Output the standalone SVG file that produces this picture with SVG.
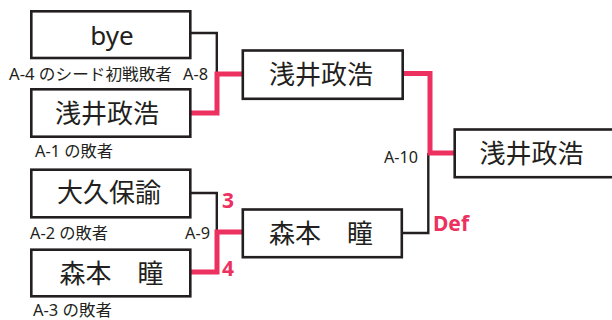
<svg xmlns="http://www.w3.org/2000/svg" width="612" height="320" viewBox="0 0 612 320">
<style>
.box{fill:#fff;stroke:#231f20;stroke-width:2.6}
.name{font-family:"Noto Sans","Noto Sans CJK JP",sans-serif;font-size:26px;fill:#231f20;text-anchor:middle}
.lbl{font-family:"Noto Sans","Noto Sans CJK JP",sans-serif;font-size:16px;fill:#231f20}
.score{font-family:"Noto Sans","Open Sans",sans-serif;font-size:21px;font-weight:bold;fill:#ec3160}
.blk{fill:none;stroke:#231f20;stroke-width:2.4}
.win{fill:none;stroke:#ec3160;stroke-width:5}
</style>
<rect width="612" height="320" fill="#fff"/>
<g id="connectors">
<path class="blk" d="M190,33 H216.8 V74"/>
<path class="win" d="M190,113 H217 V74 H243"/>
<path class="blk" d="M190,193 H216.8 V232"/>
<path class="win" d="M190,272 H217 V232 H243"/>
<path class="blk" d="M402,233 H428.3 V153"/>
<path class="win" d="M402,73.5 H430 V153 H455"/>
</g>
<g id="n-bye"><rect class="box" x="31.3" y="11.3" width="159" height="46.7"/><text class="name" x="112" y="45">bye</text></g>
<g id="n-asai1"><rect class="box" x="31.3" y="89.3" width="159" height="47.4"/><text class="name" x="107" y="123">浅井政浩</text></g>
<g id="n-okubo"><rect class="box" x="31.3" y="169.7" width="159" height="47.6"/><text class="name" x="109" y="202">大久保諭</text></g>
<g id="n-morimoto1"><rect class="box" x="31.3" y="249.7" width="159" height="46.6"/><text class="name" x="111.5" y="283">森本　瞳</text></g>
<g id="n-asai2"><rect class="box" x="242.8" y="50.5" width="159.9" height="48.3"/><text class="name" x="321" y="83.5">浅井政浩</text></g>
<g id="n-morimoto2"><rect class="box" x="242.8" y="209.5" width="159" height="47.7"/><text class="name" x="321" y="242.5">森本　瞳</text></g>
<g id="n-asai3"><rect class="box" x="454.7" y="129.5" width="162" height="47.7"/><text class="name" x="531.5" y="163">浅井政浩</text></g>
<g id="labels">
<text class="lbl" x="9" y="80" textLength="163" lengthAdjust="spacingAndGlyphs">A-4 のシード初戦敗者</text>
<text class="lbl" x="183" y="80" textLength="25" lengthAdjust="spacingAndGlyphs">A-8</text>
<text class="lbl" x="35" y="157" textLength="78" lengthAdjust="spacingAndGlyphs">A-1 の敗者</text>
<text class="lbl" x="30" y="239" textLength="78" lengthAdjust="spacingAndGlyphs">A-2 の敗者</text>
<text class="lbl" x="185" y="239" textLength="25" lengthAdjust="spacingAndGlyphs">A-9</text>
<text class="lbl" x="33" y="316" textLength="79" lengthAdjust="spacingAndGlyphs">A-3 の敗者</text>
<text class="lbl" x="384" y="163" textLength="34" lengthAdjust="spacingAndGlyphs">A-10</text>
<text class="score" x="222" y="208">3</text>
<text class="score" x="222" y="276">4</text>
<text class="score" x="433" y="231">Def</text>
</g>
</svg>
